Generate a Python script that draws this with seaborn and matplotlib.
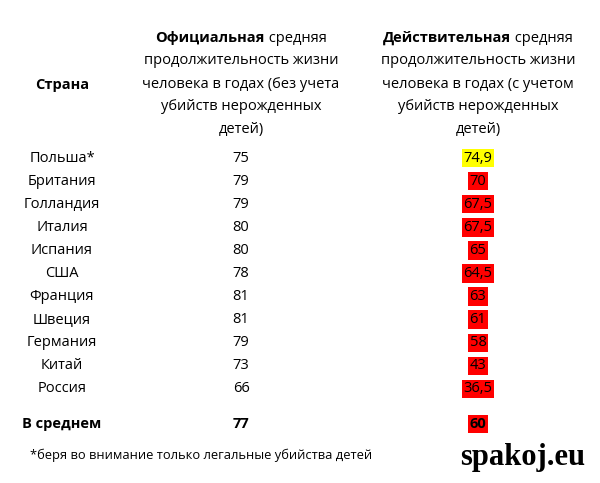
import matplotlib
matplotlib.use("Agg")
import matplotlib.pyplot as plt
import seaborn as sns

countries = ["Польша*", "Британия", "Голландия", "Италия", "Испания", "США",
             "Франция", "Швеция", "Германия", "Китай", "Россия"]
official = ["75", "79", "79", "80", "80", "78", "81", "81", "79", "73", "66"]
actual = ["74,9", "70", "67,5", "67,5", "65", "64,5", "63", "61", "58", "43", "36,5"]
avg_label = "В среднем"
avg_official = "77"
avg_actual = "60"
hdr2 = [("Официальная", " средняя"), ("", "продолжительность жизни"),
        ("", "человека в годах (без учета"), ("", "убийств нерожденных"), ("", "детей)")]
hdr3 = [("Действительная", " средняя"), ("", "продолжительность жизни"),
        ("", "человека в годах (с учетом"), ("", "убийств нерожденных"), ("", "детей)")]

sns.set_theme(style="white")
plt.rcParams["font.family"] = "Open Sans"
plt.rcParams["text.color"] = "black"
FS = 10.5
fig = plt.figure(figsize=(6, 4.83), dpi=100)
ax = fig.add_axes([0, 0, 1, 1])
ax.set_xlim(0, 600); ax.set_ylim(483, 0); ax.axis("off")
fig.canvas.draw()
r = fig.canvas.get_renderer()

def mixed(cx, y, bold, norm):
    t1 = ax.text(0, y, bold, fontsize=FS, fontweight="bold", va="center", ha="left")
    t2 = ax.text(0, y, norm, fontsize=FS, va="center", ha="left")
    w1 = t1.get_window_extent(r).width if bold else 0
    w2 = t2.get_window_extent(r).width
    x0 = cx - (w1 + w2) / 2
    t1.set_x(x0); t2.set_x(x0 + w1)

ys_h = [38, 61, 84, 107, 130]
for (b, n), y in zip(hdr2, ys_h):
    mixed(241, y, b, n)
for (b, n), y in zip(hdr3, ys_h):
    mixed(478, y, b, n)
ax.text(62, 85, "Страна", fontsize=FS, fontweight="bold", ha="center", va="center")

ys = [158 + i * 23.1 for i in range(len(countries))]
for i, y in enumerate(ys):
    ax.text(62, y, countries[i], fontsize=FS, ha="center", va="center")
    ax.text(241, y, official[i], fontsize=FS, ha="center", va="center")
    col = "#ffff00" if i == 0 else "#ff0000"
    ax.text(478, y, actual[i], fontsize=FS, ha="center", va="center",
            bbox=dict(boxstyle="square,pad=0.12", fc=col, ec="none"))
y = 424
ax.text(62, y, avg_label, fontsize=FS, fontweight="bold", ha="center", va="center")
ax.text(241, y, avg_official, fontsize=FS, fontweight="bold", ha="center", va="center")
ax.text(478, y, avg_actual, fontsize=FS, fontweight="bold", ha="center", va="center",
        bbox=dict(boxstyle="square,pad=0.12", fc="#ff0000", ec="none"))
ax.text(30, 455, "*беря во внимание только легальные убийства детей", fontsize=9.3,
        ha="left", va="center")
ax.text(585, 458, "spakoj.eu", fontsize=22, fontweight="bold", family="Liberation Serif",
        ha="right", va="center")
fig.savefig("out.png", dpi=100)
